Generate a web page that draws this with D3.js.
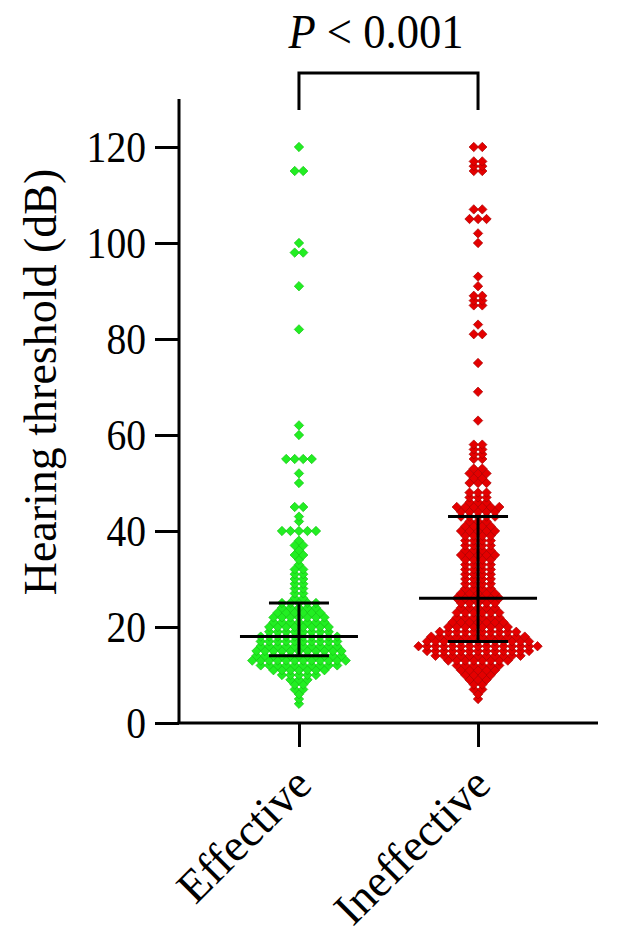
<!DOCTYPE html>
<html>
<head>
<meta charset="utf-8">
<script src="https://cdn.jsdelivr.net/npm/d3@7"></script>
<style>
  body { margin: 0; background: #fff; }
  text { font-family: "Liberation Serif", "DejaVu Serif", serif; fill: #000; }
</style>
</head>
<body>
<svg id="chart" width="618" height="945"></svg>
<script>
// groups
let categories = ["Effective", "Ineffective"]
let colors = ["#22ee22", "#e40000"]
let strokes = ["#14c414", "#a80000"]

// hearing thresholds: level (dB) and how many dots sit on that level
let effectiveLevels = [4,5,6,7,8,9,10,11,12,13,14,15,16,17,18,19,20,21,22,23,24,25,26,27,28,29,30,31,32,33,34,35,36,37,38,40,42,43,45,50,52,55,60,62,82,91,98,100,115,120]
let effectiveCounts = [1,1,1,2,2,3,5,7,10,12,11,11,10,10,10,8,8,7,7,6,5,5,2,2,2,2,2,2,2,1,1,2,1,2,1,5,1,1,2,1,1,4,1,1,1,1,2,1,2,1]

let ineffectiveLevels = [5,6,7,8,9,10,11,12,13,14,15,16,17,18,19,20,21,22,23,24,25,26,27,28,29,30,31,32,33,34,35,36,37,38,39,40,41,42,43,44,45,46,47,48,50,51,52,53,55,56,57,58,63,69,75,81,83,87,88,89,91,93,100,102,105,107,115,116,117,120]
let ineffectiveCounts = [1,1,2,2,3,4,5,6,8,11,13,15,13,12,10,8,7,6,6,5,5,6,5,4,4,4,4,4,4,4,5,4,4,4,4,5,4,3,5,5,6,3,3,3,3,2,3,2,2,2,2,2,1,1,1,2,1,2,2,2,1,1,1,1,3,2,2,2,2,2]

// median and interquartile range
let medians = [18, 26]
let q1 = [14, 17]
let q3 = [25, 43]

let yTicks = [0, 20, 40, 60, 80, 100, 120]
let pLabel = "< 0.001"

let svg = d3.select("#chart")

let y = d3.scaleLinear().domain([0, 130]).range([723, 99])
let x = d3.scalePoint().domain(categories).range([179, 598]).padding(0.67)

// square diamond, same as the prism markers
let diamond = {
    draw: function(context, size) {
        let r = Math.sqrt(size / 2)
        context.moveTo(0, -r)
        context.lineTo(r, 0)
        context.lineTo(0, r)
        context.lineTo(-r, 0)
        context.closePath()
    }
}

let groups = [
    {levels: effectiveLevels, counts: effectiveCounts},
    {levels: ineffectiveLevels, counts: ineffectiveCounts}
]

let spacing = 8.5
let points = []
groups.forEach(function(g, gi) {
    g.levels.forEach(function(v, i) {
        let n = g.counts[i]
        for (let k = 0; k < n; k++) {
            points.push({group: gi, value: v, off: (k - (n - 1) / 2) * spacing})
        }
    })
})

svg.append("g")
    .selectAll("path")
    .data(points)
    .enter().append("path")
    .attr("d", d3.symbol().type(diamond).size(2 * 4.7 * 4.7))
    .attr("transform", function(d) { return "translate(" + (x(categories[d.group]) + d.off) + "," + y(d.value) + ")" })
    .attr("fill", function(d) { return colors[d.group] })
    .attr("stroke", function(d) { return strokes[d.group] })
    .attr("stroke-width", 0.7)

// median + IQR bars
let bars = svg.append("g").attr("stroke", "#000").attr("stroke-width", 3)
categories.forEach(function(c, i) {
    let cx = x(c)
    bars.append("line").attr("x1", cx).attr("x2", cx).attr("y1", y(q1[i])).attr("y2", y(q3[i]))
    bars.append("line").attr("x1", cx - 30).attr("x2", cx + 30).attr("y1", y(q1[i])).attr("y2", y(q1[i]))
    bars.append("line").attr("x1", cx - 30).attr("x2", cx + 30).attr("y1", y(q3[i])).attr("y2", y(q3[i]))
    bars.append("line").attr("x1", cx - 59).attr("x2", cx + 59).attr("y1", y(medians[i])).attr("y2", y(medians[i]))
})

// y axis
let yAxis = svg.append("g")
    .attr("transform", "translate(179,0)")
    .call(d3.axisLeft(y).tickValues(yTicks).tickSize(24).tickPadding(9).tickSizeOuter(0))
yAxis.select(".domain").attr("stroke-width", 3).attr("d", "M0," + y(0) + "V" + y(130))
yAxis.selectAll(".tick line").attr("stroke-width", 3)
yAxis.selectAll(".tick text")
    .attr("font-size", 45)
    .attr("font-family", "Liberation Serif")
    .attr("transform", "scale(0.88,1)")
    .attr("x", -33 / 0.88)

// x axis
let xAxis = svg.append("g")
    .attr("transform", "translate(0," + y(0) + ")")
    .call(d3.axisBottom(x).tickSize(24).tickSizeOuter(0).tickFormat(""))
xAxis.select(".domain").attr("stroke-width", 3).attr("d", "M177.5,0H598")
xAxis.selectAll(".tick line").attr("stroke-width", 3)

svg.append("g")
    .selectAll("text")
    .data(categories)
    .enter().append("text")
    .attr("transform", function(d) { return "translate(" + (x(d) + 15) + ",787) rotate(-45)" })
    .attr("text-anchor", "end")
    .attr("font-size", 46)
    .text(function(d) { return d })

// y title
svg.append("text")
    .attr("transform", "translate(56,382) rotate(-90)")
    .attr("text-anchor", "middle")
    .attr("font-size", 46)
    .text("Hearing threshold (dB)")

// significance bracket
svg.append("path")
    .attr("d", "M" + x(categories[0]) + ",110V73H" + x(categories[1]) + "V110")
    .attr("fill", "none")
    .attr("stroke", "#000")
    .attr("stroke-width", 3)

let pText = svg.append("text")
    .attr("transform", "translate(376,48) scale(0.93,1)")
    .attr("text-anchor", "middle")
    .attr("font-size", 48)
pText.append("tspan").attr("font-style", "italic").text("P")
pText.append("tspan").text(" " + pLabel)
</script>
</body>
</html>
